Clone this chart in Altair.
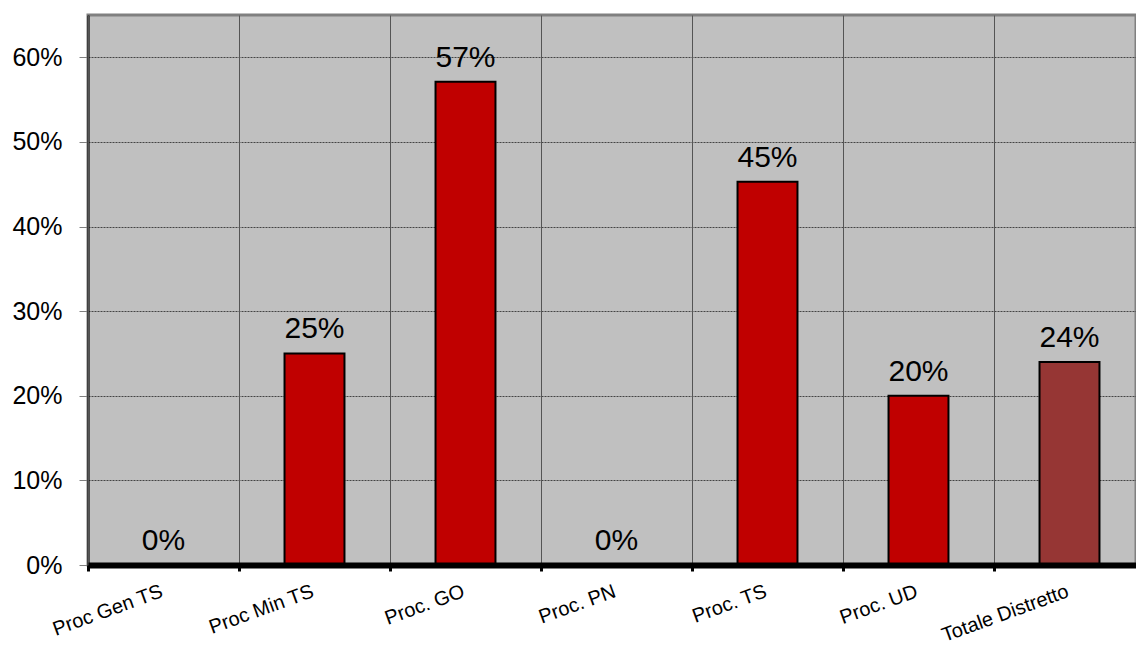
import altair as alt
import pandas as pd

# Share of cases per office
categories = ["Proc Gen TS", "Proc Min TS", "Proc. GO", "Proc. PN",
              "Proc. TS", "Proc. UD", "Totale Distretto"]
values = [0.0, 0.25, 0.571, 0.0, 0.453, 0.20, 0.24]
groups = ["ufficio", "ufficio", "ufficio", "ufficio", "ufficio", "ufficio", "totale"]

df = pd.DataFrame({"cat": categories, "val": values, "grp": groups})

FONT = "Liberation Sans"

x_enc = alt.X(
    "cat:N",
    sort=categories,
    title=None,
    scale=alt.Scale(range=[0, 1057], paddingInner=0, paddingOuter=0),
    axis=alt.Axis(
        labelAngle=-20, labelAlign="right", labelBaseline="alphabetic",
        labelFont=FONT, labelFontSize=20, labelColor="black", labelPadding=25,
        domainColor="black", domainWidth=6,
        tickColor="black", tickWidth=3, tickSize=6, tickBand="extent",
        grid=True, gridColor="#555555", gridWidth=1, zindex=1,
    ),
)

y_enc = alt.Y(
    "val:Q",
    title=None,
    scale=alt.Scale(domain=[0, 0.65], nice=False),
    axis=alt.Axis(
        values=[0, 0.1, 0.2, 0.3, 0.4, 0.5, 0.6], format=".0%",
        labelFont=FONT, labelFontSize=25, labelColor="black", labelPadding=17,
        domainColor="black", domainWidth=2,
        tickColor="#808080", tickWidth=1, tickSize=9,
        grid=True, gridColor="#444444", gridWidth=1, gridDash=[2, 1],
    ),
)

bars = alt.Chart(df).mark_bar(
    stroke="black", strokeWidth=2, width=alt.RelativeBandSize(0.397),
).encode(
    x=x_enc,
    y=y_enc,
    color=alt.Color("grp:N", scale=alt.Scale(domain=["ufficio", "totale"],
                                              range=["#C00000", "#963634"]),
                    legend=None),
)

labels = alt.Chart(df).mark_text(
    font=FONT, fontSize=30, color="black", baseline="alphabetic", dy=-15,
).encode(
    x=alt.X("cat:N", sort=categories),
    y=alt.Y("val:Q"),
    text=alt.Text("val:Q", format=".0%"),
)

chart = alt.layer(bars, labels).properties(
    width=1048,
    height=550,
    autosize=alt.AutoSizeParams(type="none"),
    padding={"left": 88, "top": 15, "right": 0, "bottom": 88},
    background="white",
).configure_view(
    fill="#C0C0C0", stroke="#808080", strokeWidth=3,
)

chart.save("out.html", embed_options={"renderer": "svg", "actions": False})
